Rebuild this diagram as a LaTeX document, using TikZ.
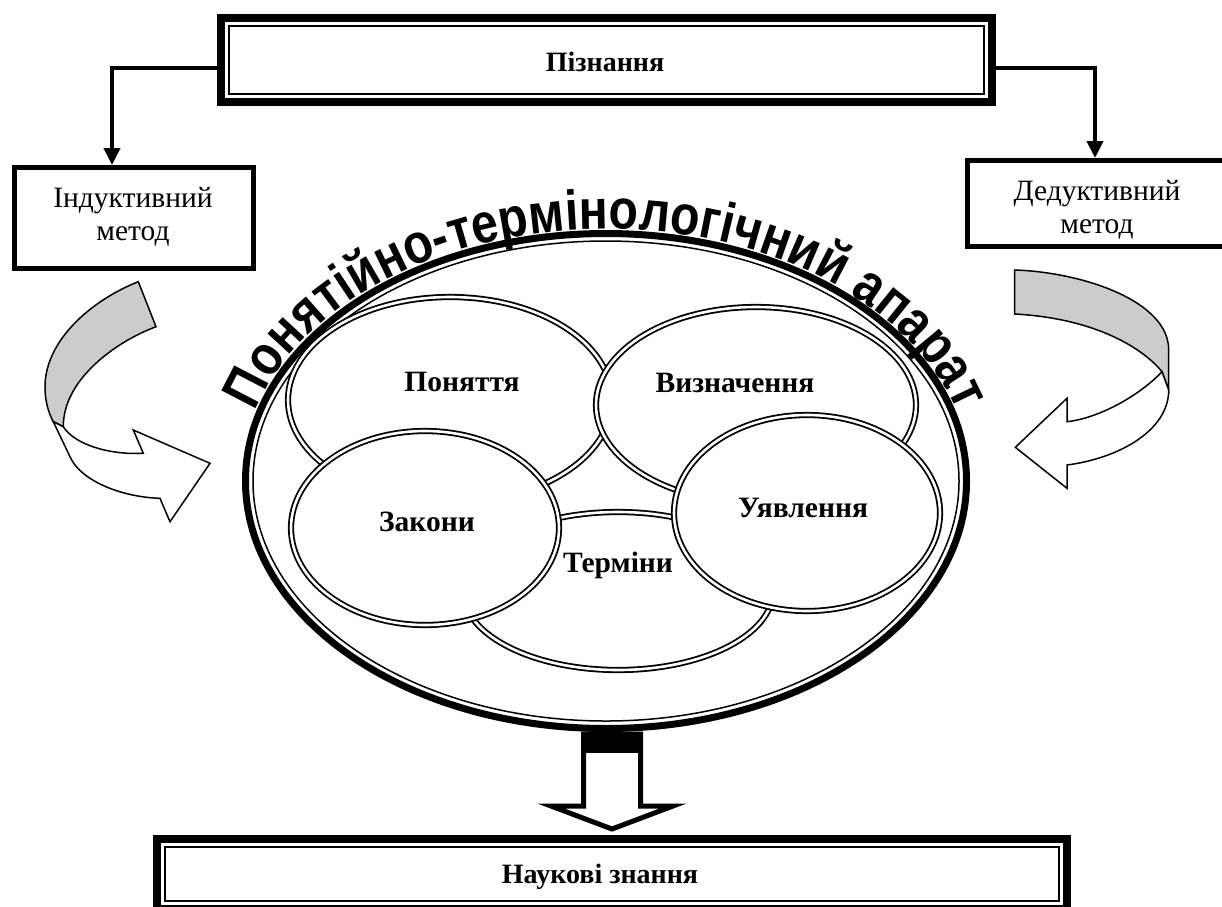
\documentclass[tikz,border=0pt]{standalone}
\usepackage{fontspec}
\setmainfont{Liberation Serif}
\newfontfamily\arcfont{Liberation Sans}[FakeStretch=0.86]
\usetikzlibrary{arrows.meta,decorations.text,shapes.geometric,calc}
\definecolor{ribbongray}{HTML}{CCCCCC}
\begin{document}
\begin{tikzpicture}[x=1pt,y=-1pt,
  frame/.style={draw=black,line width=8pt,outer sep=0pt,inner sep=0pt},
  thinframe/.style={draw=black,line width=2pt},
  methodbox/.style={draw=black,line width=5pt,inner sep=0pt},
  methodtext/.style={inner sep=0pt,align=center,font=\fontsize{29.5}{33}\selectfont},
  conn/.style={draw=black,line width=4pt,-{Triangle[length=17pt,width=16pt]}},
  part/.style={ellipse,draw=black,fill=white,line width=1.8pt,double=white,double distance=2.6pt,inner sep=0pt},
  lbl/.style={font=\fontsize{29.5}{29.5}\selectfont\bfseries,inner sep=0pt},
  ribbon/.style={draw=black,line width=1.5pt,line join=miter},
  bigarrow/.style={draw=black,line width=5pt,fill=white,line join=miter},
]
\useasboundingbox (0,0) rectangle (1222,906);
\fill[white] (0,0) rectangle (1222,906);

% top box
\node[frame, minimum width=771pt, minimum height=84pt] (top) at (606.5,60) {};
\draw[thinframe] ([shift={(8,8)}]top.north west) rectangle ([shift={(-8,-8)}]top.south east);
\node[inner sep=0pt, font=\fontsize{28}{28}\selectfont\bfseries] (toptext) at (605,62) {Пізнання};

% method boxes
\node[methodbox, minimum width=239pt, minimum height=101pt] (ind) at (134,218) {};
\node[methodtext] (indtext) at (133,216.5) {Індуктивний\\метод};
\node[methodbox, minimum width=259pt, minimum height=86pt] (ded) at (1097,203.5) {};
\node[methodtext] (dedtext) at (1097,210) {Дедуктивний\\метод};

% connectors
\draw[conn] ([shift={(0,8)}]top.west) -| ([xshift=-22pt]ind.north);
\draw[conn] ([shift={(0,8)}]top.east) -| ([xshift=-2pt]ded.north);

% big ellipse
\node[ellipse, draw=black, fill=white, line width=7pt, minimum width=721pt, minimum height=495pt, inner sep=0pt] (app) at (606,481) {};
\draw[line width=1.5pt] (app.center) ellipse [x radius=353, y radius=240];

\path[decorate, decoration={text along path, text align=center,
  text={|\fontsize{56}{56}\arcfont\bfseries|Понятійно-термінологічний апарат}}]
  (241,481) arc[start angle=180, end angle=360, x radius=365, y radius=252];

% inner parts
\node[part, minimum width=324pt, minimum height=206pt] (ponyattya) at (450,400) {};
\node[part, minimum width=320pt, minimum height=196pt] (vyznach) at (756,405) {};
\node[part, minimum width=310pt, minimum height=158pt] (terminy) at (618,591) {};
\node[part, minimum width=268pt, minimum height=194pt] (zakony) at (425,528) {};
\node[part, minimum width=266pt, minimum height=196pt] (uyavl) at (807,513) {};

\node[lbl] (l1) at (462,382) {Поняття};
\node[lbl] (l2) at (735,383) {Визначення};
\node[lbl] (l3) at (618,565) {Терміни};
\node[lbl] (l4) at (427,522) {Закони};
\node[lbl] (l5) at (803,508) {Уявлення};

% bottom box
\node[frame, minimum width=910.6pt, minimum height=70pt] (know) at (612,874) {};
\draw[thinframe] ([shift={(8,8)}]know.north west) rectangle ([shift={(-8,-8)}]know.south east);
\node[inner sep=0pt, font=\fontsize{28}{28}\selectfont\bfseries] (knowtext) at (600,877) {Наукові знання};

% big arrow
\coordinate (s) at (app.south -| know.north);
\draw[bigarrow] ($(s)+(-28.5,2)$) -- ($(s)+(-28.5,74)$) -- ($(s)+(-61,74)$) -- ($(s)+(0,97)$)
  -- ($(s)+(61,74)$) -- ($(s)+(28.5,74)$) -- ($(s)+(28.5,2)$) -- cycle;
\fill[black] ($(s)+(-31,0)$) rectangle ($(s)+(31,21)$);

% left curved arrow
\filldraw[ribbon, fill=ribbongray] (138.3,281.7) .. controls (92,300) and (45,340) .. (45,387)
  .. controls (45,400) and (48,412) .. (53.3,421.7) -- (63.3,426.7)
  .. controls (63,380) and (115,342) .. (156,326.7) -- cycle;
\filldraw[ribbon, fill=white] (53.3,421.7) -- (70,456.7) .. controls (80,480) and (120,497) .. (160,498.3)
  -- (170,521.7) -- (210,463.3) -- (133.3,430) -- (143.3,453.3)
  .. controls (110,455) and (75,445) .. (63.3,426.7) -- cycle;

% right curved arrow
\filldraw[ribbon, fill=ribbongray] (1014.7,270) .. controls (1080,272) and (1168.7,300) .. (1168.7,350)
  -- (1168.7,390) -- (1162,371.7) .. controls (1140,345) and (1090,318) .. (1014.7,314) -- cycle;
\filldraw[ribbon, fill=white] (1162,371.7) .. controls (1140,395) and (1100,418) .. (1067,421.7)
  -- (1067,398.3) -- (1015.3,447.3) -- (1067,488.3) -- (1067,465)
  .. controls (1120,458) and (1168.7,430) .. (1168.7,390) -- cycle;
\end{tikzpicture}
\end{document}
